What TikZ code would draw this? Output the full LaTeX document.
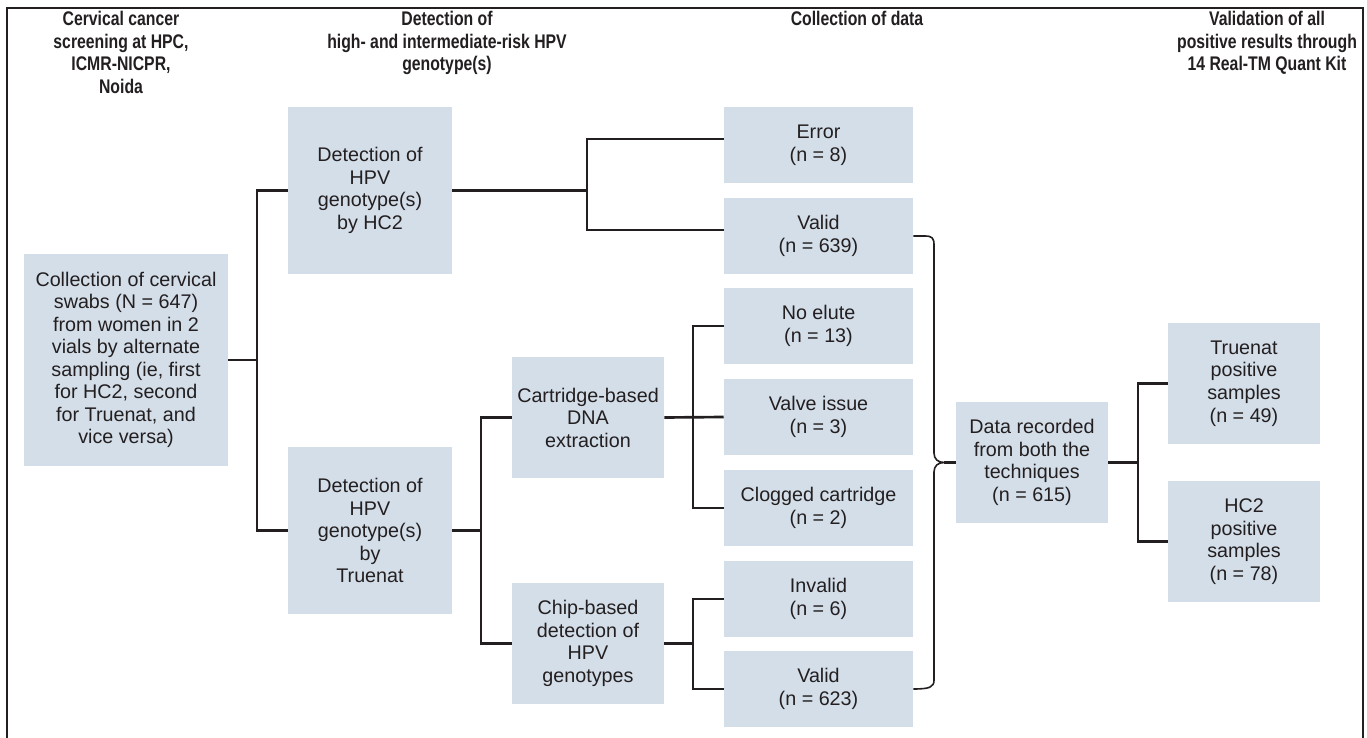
\documentclass[tikz,border=0pt]{standalone}
\usepackage{fontspec}
\setmainfont{Liberation Sans}
\newfontfamily\hdrfont[FakeStretch=0.8]{Liberation Sans Bold}
\definecolor{boxfill}{HTML}{D4DEE9}
\definecolor{ink}{HTML}{231F20}
\begin{document}
\begin{tikzpicture}[x=0.75pt,y=-0.75pt,
  box/.style={fill=boxfill, inner sep=0pt, align=center, text=ink,
    font=\fontsize{14.8}{16.9}\selectfont},
  hdr/.style={align=center, anchor=north, text=ink, inner sep=0pt,
    font=\hdrfont\fontsize{14.8}{16.9}\selectfont},
  conn/.style={draw=ink, line width=2pt},
  bracestyle/.style={draw=ink, line width=1.2pt},
  frame/.style={draw=ink, line width=1.2pt}]
\useasboundingbox (0,0) rectangle (1367,738);
% frame
\draw[frame] (7,738) -- (7,8) -- (1363,8) -- (1363,738);
% headers
\node[hdr] (h1) at (121,11) {Cervical cancer\\screening at HPC,\\ICMR-NICPR,\\Noida};
\node[hdr] (h2) at (447,11) {Detection of\\high- and intermediate-risk HPV\\genotype(s)};
\node[hdr] (h3) at (857,11) {Collection of data};
\node[hdr] (h4) at (1267,11) {Validation of all\\positive results through\\14 Real-TM Quant Kit};
% boxes
\node[box, minimum width=204*0.75pt, minimum height=212*0.75pt] (coll) at (126,360)
  {Collection of cervical\\swabs (N = 647)\\from women in 2\\vials by alternate\\sampling (ie, first\\for HC2, second\\for Truenat, and\\vice versa)};
\node[box, minimum width=164*0.75pt, minimum height=167*0.75pt] (hc2) at (370,190.5)
  {Detection of\\HPV\\genotype(s)\\by HC2};
\node[box, minimum width=164*0.75pt, minimum height=167*0.75pt] (tru) at (370,530.5)
  {Detection of\\HPV\\genotype(s)\\by\\Truenat};
\node[box, minimum width=152*0.75pt, minimum height=121*0.75pt] (cart) at (588,417.5)
  {Cartridge-based\\DNA\\extraction};
\node[box, minimum width=152*0.75pt, minimum height=121*0.75pt] (chip) at (588,643.5)
  {Chip-based\\detection of\\HPV\\genotypes};
\node[box, minimum width=189*0.75pt, minimum height=76*0.75pt] (err) at (818.5,145) {Error\\(n = 8)};
\node[box, minimum width=189*0.75pt, minimum height=76*0.75pt] (val1) at (818.5,236) {Valid\\(n = 639)};
\node[box, minimum width=189*0.75pt, minimum height=76*0.75pt] (noel) at (818.5,326) {No elute\\(n = 13)};
\node[box, minimum width=189*0.75pt, minimum height=76*0.75pt] (valve) at (818.5,417) {Valve issue\\(n = 3)};
\node[box, minimum width=189*0.75pt, minimum height=76*0.75pt] (clog) at (818.5,508) {Clogged cartridge\\(n = 2)};
\node[box, minimum width=189*0.75pt, minimum height=76*0.75pt] (inval) at (818.5,599) {Invalid\\(n = 6)};
\node[box, minimum width=189*0.75pt, minimum height=76*0.75pt] (val2) at (818.5,689) {Valid\\(n = 623)};
\node[box, minimum width=152*0.75pt, minimum height=121*0.75pt] (data) at (1032,462.5)
  {Data recorded\\from both the\\techniques\\(n = 615)};
\node[box, minimum width=152*0.75pt, minimum height=121*0.75pt] (tpos) at (1244,383.5)
  {Truenat\\positive\\samples\\(n = 49)};
\node[box, minimum width=152*0.75pt, minimum height=121*0.75pt] (hpos) at (1244,541.5)
  {HC2\\positive\\samples\\(n = 78)};
% junctions
\coordinate (j1) at (257,360);
\coordinate (j2) at (587,190.5);
\coordinate (j3) at (481,530.5);
\coordinate (j4) at (693,417);
\coordinate (j5) at (693,643.5);
\coordinate (j6) at (1138,462.5);
\coordinate (tip) at (944,462.5);
% connectors
\draw[conn] (coll.east) -- (j1);
\draw[conn] (hc2.west) -| (j1) |- (tru.west);
\draw[conn] (hc2.east) -- (j2);
\draw[conn] ([yshift=4.5pt]err.west) -| (j2) |- ([yshift=4.5pt]val1.west);
\draw[conn] (tru.east) -- (j3);
\draw[conn] (cart.west) -| (j3) |- (chip.west);
\draw[conn] (cart.east) -- (valve.west);
\draw[conn] (noel.west) -| (j4) |- (clog.west);
\draw[conn] (chip.east) -- (j5);
\draw[conn] (inval.west) -| (j5) |- (val2.west);
\draw[conn] (data.east) -- (j6);
\draw[conn] (tpos.west) -| (j6) |- (hpos.west);
% brace
\draw[bracestyle] (val1.east) -- (925,236) .. controls (932,236) and (934,238) .. (934,245)
  -- (934,453) .. controls (934,459) and (938,462.5) .. (tip)
  .. controls (938,462.5) and (934,466) .. (934,472)
  -- (934,680) .. controls (934,687) and (930,689) .. (val2.east);
\draw[conn, line width=2.3pt] (tip) -- (data.west);
\end{tikzpicture}
\end{document}
